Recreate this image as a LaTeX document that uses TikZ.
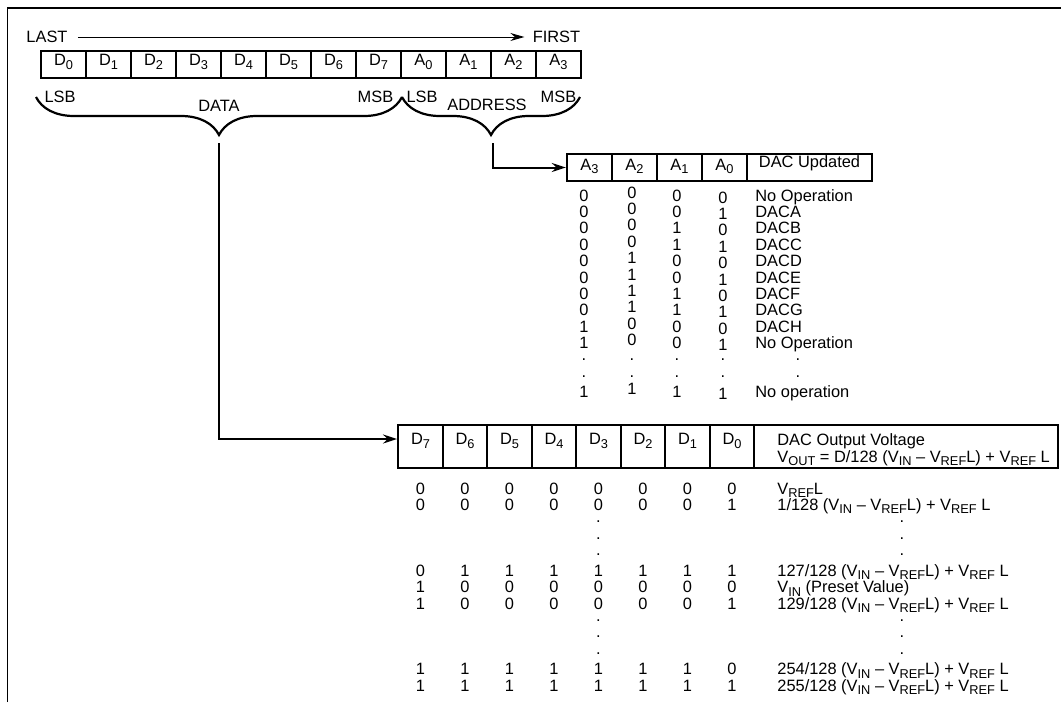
\documentclass[tikz,border=0pt]{standalone}
\usepackage{fontspec}
\setmainfont{Liberation Sans}
\usepackage{tikz}
\usetikzlibrary{arrows.meta, positioning, decorations.pathreplacing}
\newcommand{\sbs}[1]{\raisebox{-1.7pt}{\fontsize{6.4}{7}\selectfont #1}}
\tikzset{
  lbl/.style   ={inner sep=0pt},
  % register and table header cells
  regbox/.style={draw, line width=1.3pt, minimum width=22.5pt,
                 minimum height=13.5pt, inner sep=0pt, outer sep=0pt,
                 text height=6pt, text depth=4.6pt},
  abox/.style  ={draw, line width=1.2pt, minimum width=22.5pt,
                 minimum height=13.5pt, inner sep=0pt, outer sep=0pt,
                 text height=6pt, text depth=3.1pt},
  dbox/.style  ={draw, line width=1.2pt, minimum width=22.25pt,
                 minimum height=21.5pt, inner sep=0pt, outer sep=0pt,
                 text height=6pt, text depth=7.6pt},
  cell/.style  ={anchor=base, inner sep=0pt},
  dotc/.style  ={inner sep=0pt},
  brc/.style   ={decorate, decoration={brace, mirror, amplitude=19pt},
                 line width=1.1pt},
  order/.style ={-{Stealth[length=7pt, width=4pt]}, line width=0.5pt,
                 shorten <=5pt, shorten >=4pt},
  flow/.style  ={-{Stealth[length=7pt, width=4.5pt]}, line width=1pt,
                 shorten >=0.6pt},
}

\begin{document}
\begin{tikzpicture}[x=0.5pt, y=-0.5pt, font=\fontsize{8.2}{9.8}\selectfont]
  \useasboundingbox (0,0) rectangle (1061,702);
  \draw[line width=0.8pt] (7.5,702) -- (7.5,8) -- (1061,8);

  % serial word
  \node[lbl] (last)  at (47,37)    {LAST};
  \node[lbl] (first) at (556.5,37) {FIRST};
  \draw[order] (last) -- (first);
  \foreach \i in {0,...,7}
    \node[regbox] (rd\i) at (63.5+45*\i,64.5) {D\sbs{\i}};
  \foreach \i in {0,...,3}
    \node[regbox] (ra\i) at (423.5+45*\i,64.5) {A\sbs{\i}};

  \coordinate (dl) at (36,97);
  \coordinate (dr) at (402,97);
  \coordinate (ar) at (580,97);
  \draw[brc] (dl) -- (dr);
  \draw[brc] (dr) -- (ar);
  \node[lbl] (lsbd) at (60,97)    {LSB};
  \node[lbl] (data) at (219,106)  {DATA};
  \node[lbl] (msbd) at (375.5,97) {MSB};
  \node[lbl] (lsba) at (422,97)   {LSB};
  \node[lbl] (addr) at (487,105)  {ADDRESS};
  \node[lbl] (msba) at (558.5,97) {MSB};

  % address decode table
  \foreach \i [count=\c from 0] in {3,2,1,0}
    \node[abox] (aa\i) at (589.5+45*\c,167.5) {A\sbs{\i}};
  \node[abox, minimum width=62.5pt, text depth=6pt, right=0pt of aa0] (upd)
    {DAC Updated};
  \coordinate (atip) at (493,143);
  \draw[flow] (atip) |- (aa3);

  \foreach \k/\va/\vb/\vc/\vd/\txt in {0/0/0/0/0/No Operation,
      1/0/0/0/1/DACA, 2/0/0/1/0/DACB, 3/0/0/1/1/DACC, 4/0/1/0/0/DACD,
      5/0/1/0/1/DACE, 6/0/1/1/0/DACF, 7/0/1/1/1/DACG, 8/1/0/0/0/DACH,
      9/1/0/0/1/No Operation, 12/1/1/1/1/No operation}{
    \node[cell] (a3-\k) at (584,201+16.4*\k) {\va};
    \node[cell] (a2-\k) at (632,198+16.4*\k) {\vb};
    \node[cell] (a1-\k) at (677,201+16.4*\k) {\vc};
    \node[cell] (a0-\k) at (723,203+16.4*\k) {\vd};
    \node[cell, anchor=base west] (au-\k) at (755,201+16.4*\k) {\txt};
  }
  \foreach \k in {10,11}
    \foreach \x in {584,632,677,723,798}
      \node[dotc] (ad-\k-\x) at (\x,196+16.4*\k) {.};

  % data / output voltage table
  \foreach \i [count=\c from 0] in {7,6,...,0}
    \node[dbox] (dd\i) at (420.5+44.5*\c,446.5) {D\sbs{\i}};
  \node[dbox, minimum width=152pt, right=0pt of dd0] (vout) {};
  \node[lbl, anchor=north west, align=left,
        font=\fontsize{8.2}{8.5}\selectfont] (vhead) at (777,433)
    {DAC Output Voltage\\
     V\sbs{OUT} = D/128 (V\sbs{IN} – V\sbs{REF}L) + V\sbs{REF} L};
  \coordinate (dtip) at (219,143);
  \draw[flow] (dtip) |- ([yshift=3.75pt]dd7.west);

  \foreach \k/\bits/\txt in {
      0/{0,0,0,0,0,0,0,0}/{V\sbs{REF}L},
      1/{0,0,0,0,0,0,0,1}/{1/128 (V\sbs{IN} – V\sbs{REF}L) + V\sbs{REF} L},
      5/{0,1,1,1,1,1,1,1}/{127/128 (V\sbs{IN} – V\sbs{REF}L) + V\sbs{REF} L},
      6/{1,0,0,0,0,0,0,0}/{V\sbs{IN} (Preset Value)},
      7/{1,0,0,0,0,0,0,1}/{129/128 (V\sbs{IN} – V\sbs{REF}L) + V\sbs{REF} L},
      11/{1,1,1,1,1,1,1,0}/{254/128 (V\sbs{IN} – V\sbs{REF}L) + V\sbs{REF} L},
      12/{1,1,1,1,1,1,1,1}/{255/128 (V\sbs{IN} – V\sbs{REF}L) + V\sbs{REF} L}}{
    \foreach \v [count=\c from 0] in \bits
      \node[cell] (dv-\k-\c) at (420.5+44.5*\c,494+16.45*\k) {\v};
    \node[cell, anchor=base west] (dt-\k) at (777,494+16.45*\k) {\txt};
  }
  \foreach \k in {2,3,4,8,9,10}{
    \node[dotc] (dx-\k) at (598.5,489+16.45*\k) {.};
    \node[dotc] (dy-\k) at (902,489+16.45*\k) {.};
  }
\end{tikzpicture}
\end{document}
